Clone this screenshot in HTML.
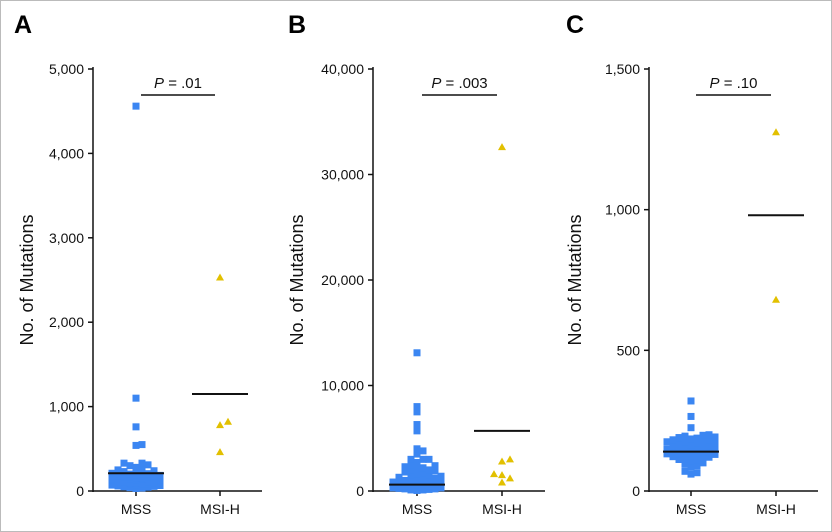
<!DOCTYPE html>
<html><head><meta charset="utf-8"><style>
html,body{margin:0;padding:0;background:#fff}
svg{display:block;font-family:"Liberation Sans",Arial,sans-serif}
</style></head><body>
<svg id="chart" width="832" height="532" viewBox="0 0 832 532">
<rect x="0.5" y="0.5" width="831" height="531" fill="#fff" stroke="#bbb"/>
</svg>
<script>
// Panel A
const groupsA = ["MSS","MSI-H"];
const ticksA = [0,1000,2000,3000,4000,5000];
const tickLabelsA = ["0","1,000","2,000","3,000","4,000","5,000"];
const mssA = [4560,1100,760,550,540,330,300,310,330,280,260,250,240,230,220,210,205,200,195,190,185,180,175,170,165,160,155,150,148,145,140,135,130,125,120,118,115,110,105,100,98,95,90,85,80,75,70,65,60,55,50,45,40,35,30,200,180,160,140,120,100,80];
const msiA = [2530,820,780,460];
const meansA = [210,1150];
const pA = ".01";
// Panel B
const groupsB = ["MSS","MSI-H"];
const ticksB = [0,10000,20000,30000,40000];
const tickLabelsB = ["0","10,000","20,000","30,000","40,000"];
const mssB = [13100,8000,7500,6300,5700,4000,3800,3500,3000,3000,3000,2700,2500,2400,2300,2200,2100,2000,2000,1900,1800,1700,1600,1500,1400,1300,1200,1100,1000,950,900,850,800,750,700,650,600,550,500,450,400,350,300,250,200,150,100,50,1500,1200,900,600,300,200,100,400,700,1000];
const msiB = [32600,3000,2800,1600,1500,1200,800];
const meansB = [600,5700];
const pB = ".003";
// Panel C
const groupsC = ["MSS","MSI-H"];
const ticksC = [0,500,1000,1500];
const tickLabelsC = ["0","500","1,000","1,500"];
const mssC = [320,265,225,200,198,195,192,190,188,185,182,180,178,175,172,170,168,165,162,160,158,155,152,150,148,145,142,140,138,135,132,130,128,125,122,120,118,115,112,110,105,100,95,90,85,70,60,65,175,160,145,130,150,140];
const msiC = [1275,680];
const meansC = [140,980];
const pC = ".10";

const svg = document.getElementById('chart');
const NS = "http://www.w3.org/2000/svg";
function mk(tag, attrs, parent){const e=document.createElementNS(NS,tag);for(const k in attrs)e.setAttribute(k,attrs[k]);(parent||svg).appendChild(e);return e;}

function swarm(vals, yFn, cx, maxW, step){
  const sorted=[...vals].sort((a,b)=>a-b);const placed=[];const out=[];
  const nPos=Math.floor(maxW/step)*2+1;
  for(const v of sorted){const y=yFn(v);let best=cx,bestC=1e9;
    for(let k=0;k<nPos;k++){const off=(k%2?1:-1)*Math.ceil(k/2)*step;const x=cx+off;
      const c=placed.filter(p=>Math.abs(p.x-x)<step&&Math.abs(p.y-y)<5).length;
      if(c===0){best=x;bestC=0;break;}
      if(c<bestC){bestC=c;best=x;}}
    placed.push({x:best,y});out.push({x:best,y,v});}
  return out;
}

function panel(o){
  const g=mk('g',{},svg);
  
  
  const y0=491,y1=69,max=o.ticks[o.ticks.length-1];
  const yS=v=>y0-(v/max)*(y0-y1);
  const t=mk('text',{x:o.lx,y:33,'font-size':25,'font-weight':'bold'},g);t.textContent=o.letter;
  
  
  const ax=mk('line',{x1:o.ax,y1:y1-2,x2:o.ax,y2:y0+1,stroke:'#111','stroke-width':1.5},g);
  
  
  const xa=mk('line',{x1:o.ax,y1:y0,x2:o.xend,y2:y0,stroke:'#111','stroke-width':1.5},g);
  
  
  o.ticks.forEach((v,i)=>{const y=yS(v);
    const tl=mk('line',{x1:o.ax-5,y1:y,x2:o.ax,y2:y,stroke:'#111','stroke-width':1.5},g);
    
    
    const tx=mk('text',{x:o.ax-9,y:y+5,'font-size':14,'text-anchor':'end',fill:'#111'},g);tx.textContent=o.labels[i];
    
    });
  const yt=mk('text',{x:0,y:0,'font-size':18,'text-anchor':'middle',transform:`translate(${o.tx},280) rotate(-90)`,fill:'#111'},g);yt.textContent='No. of Mutations';
  
  
  o.groups.forEach((n,i)=>{const x=o.cx[i];
    const tk=mk('line',{x1:x,y1:y0,x2:x,y2:y0+5,stroke:'#111','stroke-width':1.5},g);
    
    
    const tx=mk('text',{x:x,y:514,'font-size':14,'text-anchor':'middle',fill:'#111'},g);tx.textContent=n;
    
    });
  swarm(o.mss,yS,o.cx[0],24,6).forEach(p=>{const r=mk('rect',{x:p.x-3.5,y:p.y-3.5,width:7,height:7,fill:'#3b86f2'},g);
    
    });
  swarm(o.msi,yS,o.cx[1],16,8).forEach(p=>{const r=mk('polygon',{points:`${p.x},${p.y-4} ${p.x+4},${p.y+3} ${p.x-4},${p.y+3}`,fill:'#e2c000'},g);
    
    });
  o.means.forEach((m,i)=>{const x=o.cx[i];const ml=mk('line',{x1:x-28,y1:yS(m),x2:x+28,y2:yS(m),stroke:'#111','stroke-width':2},g);
    
    });
  const pl=mk('line',{x1:o.cx[0]+5,y1:95,x2:o.cx[1]-5,y2:95,stroke:'#111','stroke-width':1.5},g);
  
  
  const pt=mk('text',{x:(o.cx[0]+o.cx[1])/2,y:88,'font-size':15,'text-anchor':'middle',fill:'#111'},g);
  pt.innerHTML='<tspan font-style="italic">P</tspan> = '+o.p;
  
  
}
panel({letter:'A',lx:14,ax:93,xend:262,tx:33,cx:[136,220],groups:groupsA,ticks:ticksA,labels:tickLabelsA,mss:mssA,msi:msiA,means:meansA,p:pA});
panel({letter:'B',lx:288,ax:373,xend:545,tx:303,cx:[417,502],groups:groupsB,ticks:ticksB,labels:tickLabelsB,mss:mssB,msi:msiB,means:meansB,p:pB});
panel({letter:'C',lx:566,ax:649,xend:818,tx:581,cx:[691,776],groups:groupsC,ticks:ticksC,labels:tickLabelsC,mss:mssC,msi:msiC,means:meansC,p:pC});
</script>
</body></html>
